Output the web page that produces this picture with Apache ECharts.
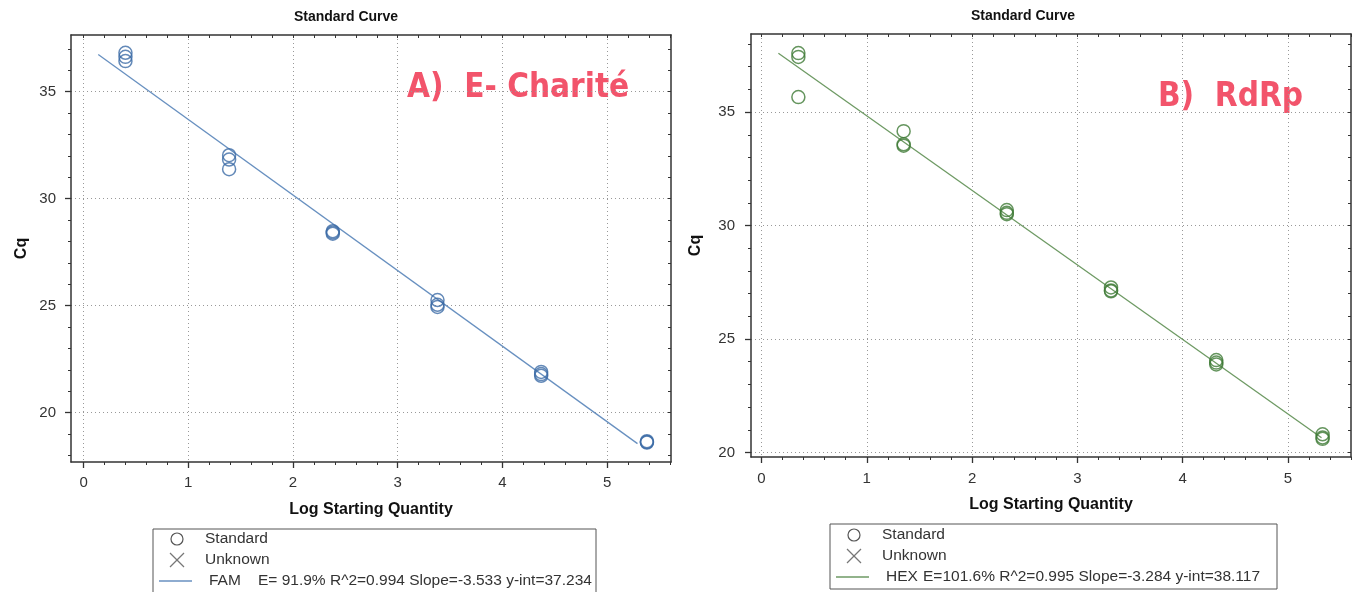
<!DOCTYPE html>
<html lang="en">
<head>
<meta charset="UTF-8">
<script src="https://cdn.jsdelivr.net/npm/echarts@6/dist/echarts.min.js"></script>
<title>Standard Curve</title>
<style>html,body{margin:0;padding:0;background:#fff;}</style>
</head>
<body>
<div id="main" style="width:1353px;height:592px;"></div>
<script type="text/javascript">
// A) E-Charite (FAM) standards: log starting quantity / Cq
var famLogQty = [0.40, 0.40, 0.40, 1.39, 1.39, 1.39, 2.38, 2.38, 2.38, 3.38, 3.38, 3.38, 4.37, 4.37, 4.37, 5.38, 5.38, 5.38];
var famCq     = [36.82, 36.63, 36.43, 32.03, 31.83, 31.38, 28.48, 28.42, 28.36, 25.26, 25.04, 24.94, 21.90, 21.80, 21.72, 18.66, 18.62, 18.60];
// B) RdRp (HEX) standards
var hexLogQty = [0.35, 0.35, 0.35, 1.35, 1.35, 1.35, 2.33, 2.33, 2.33, 3.32, 3.32, 3.32, 4.32, 4.32, 4.32, 5.33, 5.33, 5.33];
var hexCq     = [37.60, 37.43, 35.66, 34.16, 33.58, 33.52, 30.68, 30.56, 30.50, 27.27, 27.14, 27.10, 24.07, 23.96, 23.88, 20.80, 20.66, 20.60];
// regression line end points
var famFitX = [0.14, 5.29];
var famFitCq = [36.74, 18.55];
var hexFitX = [0.16, 5.32];
var hexFitCq = [37.59, 20.65];
// tick labels
var xTicks = [0, 1, 2, 3, 4, 5];
var yTicks = [20, 25, 30, 35];
var famLegend = 'E= 91.9% R^2=0.994 Slope=-3.533 y-int=37.234';
var hexLegend = 'E=101.6% R^2=0.995 Slope=-3.284 y-int=38.117';

var FONT = '"Liberation Sans", Arial, sans-serif';
var AXC = '#333';
var GRIDC = '#999';

function zip(xs, ys) {
    var out = [];
    for (var i = 0; i < xs.length; i++) out.push([xs[i], ys[i]]);
    return out;
}
function steps(min, max, step) {
    var out = [];
    for (var v = Math.ceil(min / step - 1e-9) * step; v <= max + 1e-9; v += step) {
        out.push(Math.round(v * 100) / 100);
    }
    return out;
}

function xAxes(grid, min, max, labelMargin) {
    var minor = steps(min, max, 0.2);
    return [{
        type: 'value', gridIndex: grid, min: min, max: max, position: 'bottom',
        name: 'Log Starting Quantity', nameLocation: 'middle', nameGap: 40,
        nameTextStyle: {fontFamily: FONT, fontSize: 16, fontWeight: 'bold', color: '#111'},
        axisLine: {onZero: false, lineStyle: {color: AXC, width: 1.5}},
        axisTick: {customValues: xTicks, length: 6, lineStyle: {color: AXC, width: 1.3}},
        axisLabel: {customValues: xTicks, margin: labelMargin, fontFamily: FONT, fontSize: 15, color: '#333'},
        splitLine: {show: true, lineStyle: {type: [1, 3], color: GRIDC, width: 1}}
    }, {
        type: 'value', gridIndex: grid, min: min, max: max, position: 'bottom',
        axisLine: {show: false, onZero: false},
        axisTick: {customValues: minor, length: 3, lineStyle: {color: AXC}},
        axisLabel: {show: false},
        splitLine: {show: false}
    }, {
        type: 'value', gridIndex: grid, min: min, max: max, position: 'top',
        axisLine: {onZero: false, lineStyle: {color: AXC, width: 1.5}},
        axisTick: {customValues: minor, inside: true, length: 3, lineStyle: {color: AXC}},
        axisLabel: {show: false},
        splitLine: {show: false}
    }];
}

function yAxes(grid, min, max, labelMargin, nameGap) {
    var minor = steps(min, max, 1);
    return [{
        type: 'value', gridIndex: grid, min: min, max: max, position: 'left',
        name: 'Cq', nameLocation: 'middle', nameGap: nameGap,
        nameTextStyle: {fontFamily: FONT, fontSize: 16, fontWeight: 'bold', color: '#111'},
        axisLine: {onZero: false, lineStyle: {color: AXC, width: 1.5}},
        axisTick: {customValues: yTicks, length: 6, lineStyle: {color: AXC, width: 1.3}},
        axisLabel: {customValues: yTicks, margin: labelMargin, fontFamily: FONT, fontSize: 15, color: '#333'},
        splitLine: {show: true, lineStyle: {type: [1, 3], color: GRIDC, width: 1}}
    }, {
        type: 'value', gridIndex: grid, min: min, max: max, position: 'left',
        axisLine: {show: false, onZero: false},
        axisTick: {customValues: minor, length: 3, lineStyle: {color: AXC}},
        axisLabel: {show: false},
        splitLine: {show: false}
    }, {
        type: 'value', gridIndex: grid, min: min, max: max, position: 'right',
        axisLine: {onZero: false, lineStyle: {color: AXC, width: 1.5}},
        axisTick: {customValues: minor, inside: true, length: 3, lineStyle: {color: AXC}},
        axisLabel: {show: false},
        splitLine: {show: false}
    }];
}

function legendBox(x, y, w, h, rowY, lineColor, dye, stats, statsX) {
    var txt = function (t, tx, ty) {
        return {type: 'text', x: tx, y: ty, style: {text: t, font: '15.5px ' + FONT, fill: '#333', verticalAlign: 'middle'}};
    };
    return [
        {type: 'rect', shape: {x: x, y: y, width: w, height: h}, style: {fill: '#fff', stroke: '#555', lineWidth: 1}},
        {type: 'circle', shape: {cx: x + 24, cy: rowY[0], r: 6}, style: {fill: 'none', stroke: '#555', lineWidth: 1.2}},
        {type: 'line', shape: {x1: x + 17, y1: rowY[1] - 7, x2: x + 31, y2: rowY[1] + 7}, style: {stroke: '#777', lineWidth: 1.2}},
        {type: 'line', shape: {x1: x + 17, y1: rowY[1] + 7, x2: x + 31, y2: rowY[1] - 7}, style: {stroke: '#777', lineWidth: 1.2}},
        {type: 'line', shape: {x1: x + 6, y1: rowY[2], x2: x + 39, y2: rowY[2]}, style: {stroke: lineColor, lineWidth: 1.5}},
        txt('Standard', x + 52, rowY[0]),
        txt('Unknown', x + 52, rowY[1]),
        txt(dye, x + 56, rowY[2]),
        txt(stats, statsX, rowY[2])
    ];
}

var famLine = '#6890c0', famPoint = '#3c6ca6';
var hexLine = '#6e9a64', hexPoint = '#3e7a36';
var NOTE = 'bold 33px "DejaVu Sans Condensed", "DejaVu Sans", sans-serif';

var myChart = echarts.init(document.getElementById('main'));
var option = {
    animation: false,
    grid: [
        {left: 71, top: 35, width: 600, height: 427},
        {left: 751, top: 34, width: 600, height: 423}
    ],
    xAxis: xAxes(0, -0.12, 5.61, 13).concat(xAxes(1, -0.10, 5.60, 14)),
    yAxis: yAxes(0, 17.69, 37.65, 15, 41).concat(yAxes(1, 19.80, 38.44, 16, 47)),
    series: [{
        type: 'line', xAxisIndex: 0, yAxisIndex: 0, data: zip(famFitX, famFitCq),
        symbol: 'none', lineStyle: {color: famLine, width: 1.3}, z: 2
    }, {
        type: 'scatter', xAxisIndex: 0, yAxisIndex: 0, data: zip(famLogQty, famCq),
        symbol: 'circle', symbolSize: 13,
        itemStyle: {color: 'rgba(0,0,0,0)', borderColor: famPoint, borderWidth: 1.5}, z: 3
    }, {
        type: 'line', xAxisIndex: 3, yAxisIndex: 3, data: zip(hexFitX, hexFitCq),
        symbol: 'none', lineStyle: {color: hexLine, width: 1.3}, z: 2
    }, {
        type: 'scatter', xAxisIndex: 3, yAxisIndex: 3, data: zip(hexLogQty, hexCq),
        symbol: 'circle', symbolSize: 13,
        itemStyle: {color: 'rgba(0,0,0,0)', borderColor: hexPoint, borderWidth: 1.5}, z: 3
    }],
    graphic: [
        {type: 'text', x: 346, y: 17, style: {text: 'Standard Curve', font: 'bold 14px ' + FONT, fill: '#111', align: 'center', verticalAlign: 'middle'}},
        {type: 'text', x: 1023, y: 16, style: {text: 'Standard Curve', font: 'bold 14px ' + FONT, fill: '#111', align: 'center', verticalAlign: 'middle'}},
        {type: 'text', x: 407, y: 88, style: {text: 'A)  E- Charité', font: NOTE, fill: '#f2546b', verticalAlign: 'middle'}},
        {type: 'text', x: 1158, y: 97, style: {text: 'B)  RdRp', font: NOTE, fill: '#f2546b', verticalAlign: 'middle'}}
    ].concat(legendBox(153, 529, 443, 70, [539, 560, 581], famLine, 'FAM', famLegend, 258))
     .concat(legendBox(830, 524, 447, 65, [535, 556, 577], hexLine, 'HEX', hexLegend, 923))
};
myChart.setOption(option);
</script>
</body>
</html>
